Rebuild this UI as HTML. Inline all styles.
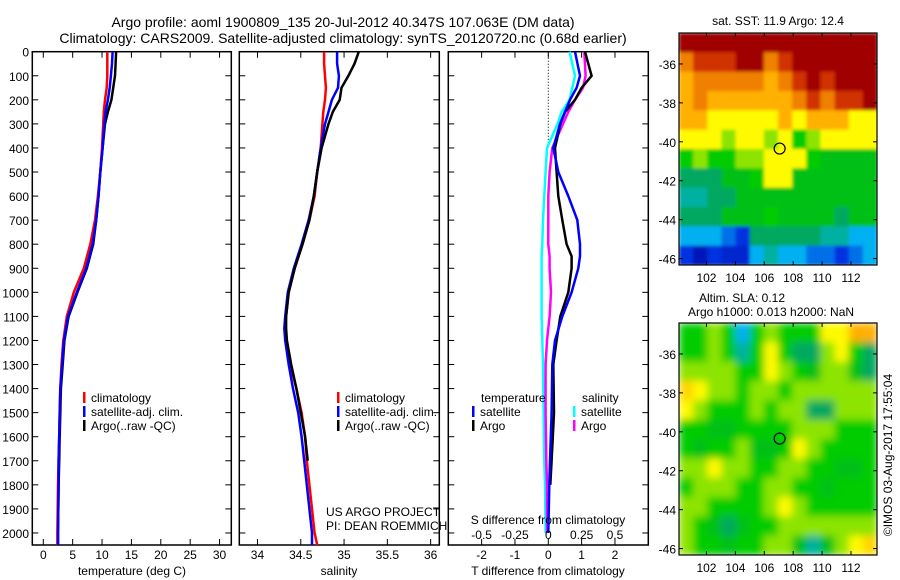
<!DOCTYPE html>
<html><head><meta charset="utf-8"><style>
html,body{margin:0;padding:0;background:#fff;}
svg{display:block;font-family:"Liberation Sans",sans-serif;}
text{fill:#000;}
</style></head><body>
<svg id="fig" width="900" height="580" viewBox="0 0 900 580">
<text x="343" y="27" font-size="14" text-anchor="middle">Argo profile: aoml 1900809_135 20-Jul-2012 40.347S 107.063E (DM data)</text>
<text x="343" y="43" font-size="14" text-anchor="middle">Climatology: CARS2009. Satellite-adjusted climatology: synTS_20120720.nc (0.68d earlier)</text>
<g id="plots"></g>
</svg>
<script>
// ---- data ----
const depths = [0,50,100,150,200,250,300,400,500,600,700,800,900,1000,1100,1200,1300,1400,1500,1600,1700,1800,2000,2050];
const tempClim = [10.9,10.9,10.9,10.8,10.5,10.3,10.2,10.0,9.7,9.3,8.8,8.0,6.9,5.2,4.0,3.4,3.1,2.9,2.8,2.7,2.6,2.5,2.4,2.4];
const tempSat  = [11.8,11.7,11.5,11.3,11.0,10.6,10.4,10.1,9.7,9.4,9.0,8.4,7.3,5.7,4.2,3.5,3.2,2.9,2.8,2.7,2.6,2.6,2.5,2.5];
const tempArgo = [12.4,12.3,12.2,11.9,11.6,11.0,10.5,10.1,9.7,9.4,9.0,8.5,7.4,5.8,4.3,3.6,3.3,3.0,2.9,2.8,2.7,2.6,2.5,2.5];
const salDepths = [0,50,100,150,200,250,300,400,500,600,700,800,900,1000,1100,1150,1200,1300,1400,1500,1600,1700,1800,2000,2050];
const salClim = [34.77,34.77,34.78,34.79,34.78,34.76,34.75,34.73,34.69,34.66,34.60,34.52,34.43,34.36,34.33,34.32,34.33,34.38,34.45,34.51,34.55,34.57,34.60,34.66,34.69];
const salSat  = [34.92,34.92,34.94,34.93,34.86,34.82,34.78,34.73,34.69,34.65,34.59,34.51,34.42,34.35,34.32,34.31,34.32,34.36,34.41,34.47,34.51,34.54,34.57,34.63,34.63];
const salArgo = [35.17,35.12,35.05,34.97,34.95,34.87,34.82,34.74,34.69,34.65,34.60,34.52,34.43,34.36,34.33,34.33,34.34,34.39,34.45,34.50,34.55,34.58,34.58,34.58,34.58];
const diffDepths = [0,100,150,200,250,300,400,500,600,700,800,850,900,1000,1100,1200,1300,1500,1700,1800,2000];
const dTSat  = [0.8,0.95,0.85,0.65,0.5,0.35,0.15,0.3,0.6,0.87,0.95,0.95,0.9,0.7,0.42,0.2,0.12,0.1,0.05,0.03,0.0];
const dTArgo = [1.1,1.3,1.0,0.8,0.5,0.36,0.2,0.25,0.3,0.42,0.55,0.7,0.7,0.6,0.36,0.25,0.15,0.17,0.1,0.06,0.06];
const dSSat  = [0.16,0.2,0.18,0.16,0.1,0.07,-0.01,-0.02,-0.03,-0.04,-0.045,-0.05,-0.05,-0.05,-0.05,-0.045,-0.04,-0.035,-0.03,-0.025,-0.02];
const dSArgo = [0.27,0.28,0.26,0.2,0.15,0.11,0.03,0.01,0.0,0.0,0.0,0.01,0.01,0.02,0.01,-0.01,-0.02,-0.02,-0.015,-0.01,-0.01];
const depthTicks = [0,100,200,300,400,500,600,700,800,900,1000,1100,1200,1300,1400,1500,1600,1700,1800,1900,2000];
const tempTicks = [0,5,10,15,20,25,30];
const salTicks = [34,34.5,35,35.5,36];
const tdTicks = [-2,-1,0,1,2];
const sdTicks = [-0.5,-0.25,0,0.25,0.5];
const latTicks = [-36,-38,-40,-42,-44,-46];
const lonTicks = [102,104,106,108,110,112];
const argoLon = 107.063, argoLat = -40.347;
const sstGrid = [
[9,9,9,9,9,9,9,9,9,9,9,9,9,9],
[7,8,8,8,9,9,7,8,9,9,9,9,9,9],
[6,7,7,7,7,7,6,7,8,9,8,9,9,9],
[6,7,6,6,6,6,6,6,7,8,7,8,8,9],
[6,6,5,5,5,5,5,6,5,6,6,6,5,5],
[5,5,5,4.5,5,5,4.5,5,4,4.5,5,5,5,5],
[4,4.5,4,4,4.5,4.5,5,5,5,4,3.5,3.5,3.5,3.5],
[3,3,3,3.5,3.5,4,5,5,3.5,3.5,3.5,3.5,3.5,3.5],
[2.5,2.5,3,3,3.5,3.5,3.5,3.5,3.5,3.5,3.5,3.5,3.5,3.5],
[3,3,3,3.5,3.5,3.5,4,3.5,3.5,3.5,3.5,3,3.5,3.5],
[2,2,2,1.5,1,3,3,3,3,3,2.5,2.5,2,2],
[1,0.5,1,0.8,0.8,2,2.5,2,2,1.5,1.5,1,1.5,2]];
const slaGrid = [
[4,4,4.5,4,2,4,4.5,4,4,4,5,5,6,6],
[4,4,4.5,4,2.5,4,5,4,3,3,4.5,5,4,3],
[4.5,4.5,4.5,4.5,4,4,5,4.5,4,3.5,4.5,4.5,3.5,3],
[5.5,5,4.5,4.5,4,4.5,4.5,4,4.5,4.5,4.5,4.5,4.5,4.5],
[5,4.5,4,4,4,4.5,4,4.5,4.5,3,3,4.5,4.5,4.5],
[4,4,3.5,3.5,4,4,4,4,4.5,4.5,4.5,4,4,4],
[4,3.5,4,4,4.5,3.5,3.5,4,5,4.5,4,4,4,4],
[4.5,4.5,5,4.5,4.5,4,4,4.5,4.5,4,4,3.5,3.5,4],
[4,4.5,4.5,4.5,4,4,4.5,4.5,4,4,3.5,4,4,4],
[4.5,4.5,4,4,4,4,4.5,5,4.5,4,4,4,4,4],
[4.5,4,3.5,3,3.5,4,4,4.5,4.5,4.5,4.5,4.5,4.5,4.5],
[4.5,4,4,3.5,4,4,4.5,4.5,3.5,2.5,3.5,4.5,5,5.5]];

// ---- helpers ----
const NS = "http://www.w3.org/2000/svg";
const root = document.getElementById('plots');
function mk(tag, attrs, parent){const e=document.createElementNS(NS,tag);for(const k in attrs)e.setAttribute(k,attrs[k]);(parent||root).appendChild(e);return e;}
function txt(x,y,s,size,anchor,parent){const t=mk('text',{x:x,y:y,'font-size':size||12,'text-anchor':anchor||'middle'},parent);t.textContent=s;return t;}

const Y0=51.7, Y1=545, DMAX=2050;
const yD = d => Y0 + d/DMAX*(Y1-Y0);

function panel(name,x0,x1,xmin,xmax){
  const g=mk('g',{});
  
  
  const r=mk('rect',{x:x0,y:Y0,width:x1-x0,height:Y1-Y0,fill:'none',stroke:'#000','stroke-width':1.5},g);
  
  
  depthTicks.forEach(d=>{
    mk('line',{x1:x0,x2:x0+6,y1:yD(d),y2:yD(d),stroke:'#000'},g);
    mk('line',{x1:x1,x2:x1-6,y1:yD(d),y2:yD(d),stroke:'#000'},g);
  });
  return {g:g,x:v=>x0+(v-xmin)/(xmax-xmin)*(x1-x0),x0:x0,x1:x1};
}
function profile(p,xs,ds,color,name,w){
  let d='';
  xs.forEach((v,i)=>{d+=(i?'L':'M')+p.x(v).toFixed(1)+','+yD(ds[i]).toFixed(1);});
  const pa=mk('path',{d:d,fill:'none',stroke:color,'stroke-width':w||2.5},p.g);
  
  
}
function xticks(p,ticks,fmt){
  ticks.forEach(t=>{
    const x=p.x(t);
    mk('line',{x1:x,x2:x,y1:Y1,y2:Y1-6,stroke:'#000'},p.g);
    mk('line',{x1:x,x2:x,y1:Y0,y2:Y0+6,stroke:'#000'},p.g);
    const l=txt(x,Y1+14,fmt?fmt(t):String(t),12,'middle',p.g);
    
    
  });
}
function legend(g,x,y,items){
  items.forEach((it,i)=>{
    mk('rect',{x:x,y:y+i*14-10,width:2.5,height:11,fill:it[1]},g);
    const t=txt(x+8,y+i*14,it[0],12,'start',g);
    
    
  });
}

depthTicks.forEach(d=>{
  const t=txt(29,yD(d)+5,String(d),12,'end');
  
  
});

// Panel 1
const p1=panel('temperature-panel',32.3,231.3,-1.87,32.0);
xticks(p1,tempTicks);
profile(p1,tempArgo,depths,'#000','argo-temperature-line');
profile(p1,tempClim,depths,'#f00','climatology-temperature-line');
profile(p1,tempSat,depths,'#00f','satellite-temperature-line');
legend(p1.g,83,402,[['climatology','#f00'],['satellite-adj. clim.','#00f'],['Argo(..raw -QC)','#000']]);
const xl1=txt(132,575,'temperature (deg C)',12);



// Panel 2
const p2=panel('salinity-panel',239.3,439.3,33.79,36.10);
xticks(p2,salTicks);
profile(p2,salClim,salDepths,'#f00','climatology-salinity-line');
profile(p2,salSat,salDepths,'#00f','satellite-salinity-line');
profile(p2,salArgo.slice(0,22),salDepths.slice(0,22),'#000','argo-salinity-line');
legend(p2.g,337,402,[['climatology','#f00'],['satellite-adj. clim.','#00f'],['Argo(..raw -QC)','#000']]);
const xl2=txt(339,575,'salinity',12);


const us1=txt(326,516,'US ARGO PROJECT',12,'start',p2.g);


const us2=txt(326,530,'PI: DEAN ROEMMICH',12,'start',p2.g);



// Panel 3
const p3=panel('difference-panel',448.3,648.3,-3,3);
const sx = s => p3.x(s*4);
const dl=mk('line',{x1:p3.x(0),x2:p3.x(0),y1:Y0,y2:yD(400),stroke:'#000','stroke-dasharray':'1,2'},p3.g);


xticks(p3,tdTicks);
profile(p3,dSSat.map(v=>v*4),diffDepths,'#0ff','satellite-salinity-diff-line');
profile(p3,dSArgo.map(v=>v*4),diffDepths,'#f0f','argo-salinity-diff-line');
profile(p3,dTArgo.slice(0,20),diffDepths.slice(0,20),'#000','argo-temperature-diff-line');
profile(p3,dTSat,diffDepths,'#00f','satellite-temperature-diff-line');
const th=txt(481,402,'temperature',12,'start',p3.g);


legend(p3.g,472,416,[['satellite','#00f'],['Argo','#000']]);
const sh=txt(582,402,'salinity',12,'start',p3.g);


legend(p3.g,573,416,[['satellite','#0ff'],['Argo','#f0f']]);
const st=txt(548,524,'S difference from climatology',12);


sdTicks.forEach(s=>{
  const t=txt(sx(s),539,String(s),12,'middle',p3.g);
  
  
});
const xl3=txt(548,575,'T difference from climatology',12);



// ---- maps ----
const stops=[[0,[0,0,144]],[1,[0,48,224]],[2,[0,176,240]],[2.5,[0,176,160]],[3,[0,168,96]],[3.5,[0,192,24]],[4,[0,204,0]],[4.5,[140,228,0]],[5,[255,250,0]],[6,[255,176,0]],[7,[240,128,0]],[8,[208,48,0]],[9,[160,0,0]]];
function cmap(v){
  for(let i=1;i<stops.length;i++){
    if(v<=stops[i][0]){const a=stops[i-1],b=stops[i];const f=(v-a[0])/(b[0]-a[0]);
      const c=a[1].map((q,k)=>Math.round(q+(b[1][k]-q)*f));return 'rgb('+c.join(',')+')';}
  }
  return 'rgb(160,0,0)';
}
const LON0=100.1, LON1=113.8, LAT0=-34.41, LAT1=-46.33;
function drawMap(name,grid,x0,y0,w,h,blur){
  const g=mk('g',{});
  
  
  const mx=lon=>x0+(lon-LON0)/(LON1-LON0)*w;
  const my=lat=>y0+(lat-LAT0)/(LAT1-LAT0)*h;
  const cid=name+'-clip';
  const cp=mk('clipPath',{id:cid},g);
  mk('rect',{x:x0,y:y0,width:w,height:h},cp);
  const inner=mk('g',{'clip-path':'url(#'+cid+')'},g);
  let tgt=inner;
  if(blur){
    const f=mk('filter',{id:name+'-blur',x:'-10%',y:'-10%',width:'120%',height:'120%'},g);
    mk('feGaussianBlur',{stdDeviation:blur,edgeMode:'duplicate'},f);
    tgt=mk('g',{filter:'url(#'+name+'-blur)'},inner);
  }
  const rows=grid.length, cols=grid[0].length;
  const cw=w/cols, ch=h/rows;
  grid.forEach((row,r)=>row.forEach((v,c)=>{
    const cell=mk('rect',{x:(x0+c*cw).toFixed(2),y:(y0+r*ch).toFixed(2),width:(cw+0.6).toFixed(2),height:(ch+0.6).toFixed(2),fill:cmap(v)},tgt);
    
    
  }));
  const fr=mk('rect',{x:x0,y:y0,width:w,height:h,fill:'none',stroke:'#000','stroke-width':1.2},g);
  
  
  latTicks.forEach(l=>{
    const y=my(l);
    mk('line',{x1:x0,x2:x0+4,y1:y,y2:y,stroke:'#000'},g);
    mk('line',{x1:x0+w,x2:x0+w-4,y1:y,y2:y,stroke:'#000'},g);
    const t=txt(x0-3,y+5,String(l),12,'end',g);
    
    
  });
  lonTicks.forEach(l=>{
    const x=mx(l);
    mk('line',{x1:x,x2:x,y1:y0,y2:y0+4,stroke:'#000'},g);
    mk('line',{x1:x,x2:x,y1:y0+h,y2:y0+h-4,stroke:'#000'},g);
    const t=txt(x,y0+h+17,String(l),12,'middle',g);
    
    
  });
  const c=mk('circle',{cx:mx(argoLon),cy:my(argoLat),r:5.5,fill:'none',stroke:'#000','stroke-width':1.2},g);
  
  
}
drawMap('sst-map',sstGrid,679,33,198,232,1.5);
drawMap('sla-map',slaGrid,679,323,198,232,4);
const mt1=txt(778,25,'sat. SST: 11.9 Argo: 12.4',12);


const mt2=txt(742,302,'Altim. SLA: 0.12',12);


const mt3=txt(771,316,'Argo h1000: 0.013 h2000: NaN',12);


const cr=txt(0,0,'©IMOS 03-Aug-2017 17:55:04',12);
cr.setAttribute('transform','translate(892,455) rotate(-90)');


</script>
</body></html>
